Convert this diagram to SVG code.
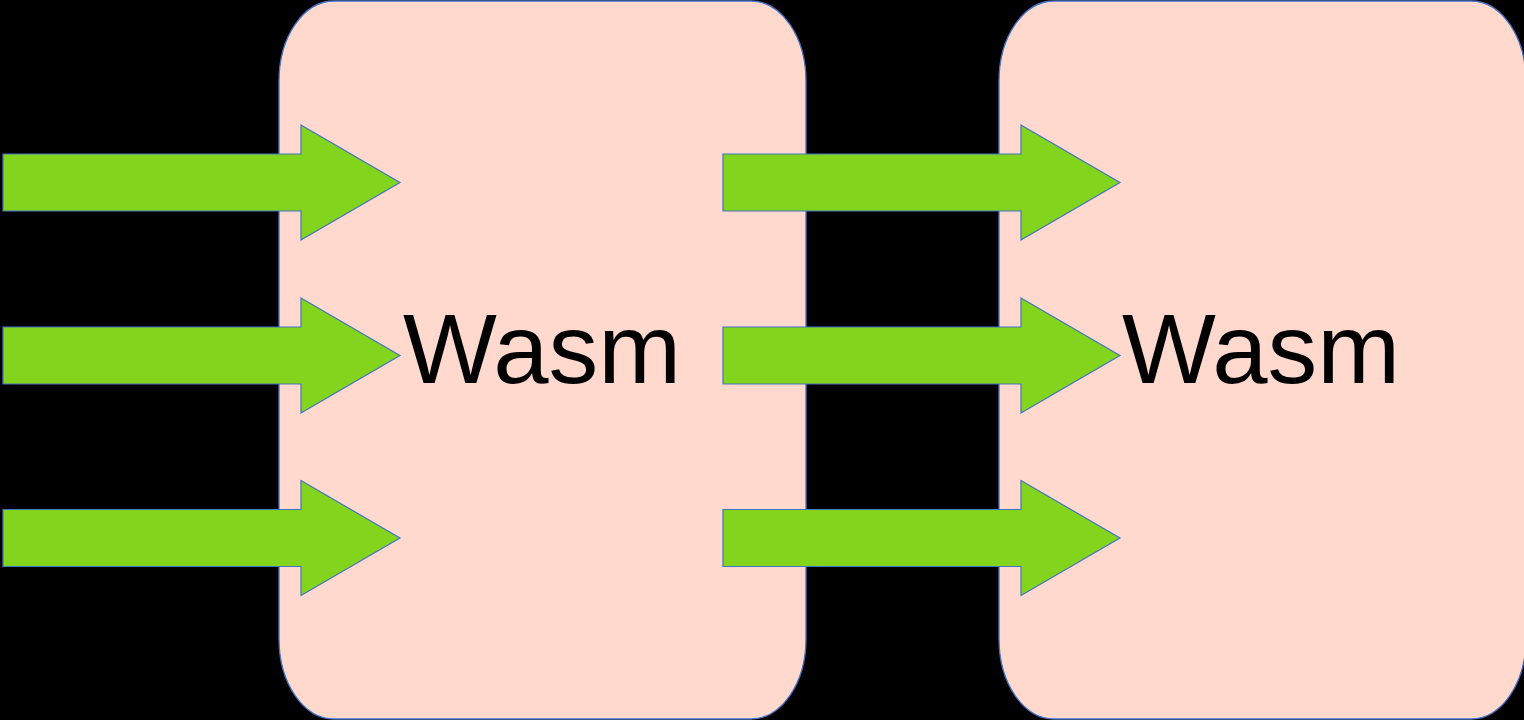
<svg xmlns="http://www.w3.org/2000/svg" width="1524" height="720" viewBox="0 0 1524 720">
<style>
.box{fill:#FFD9CE;stroke:#4472C4;stroke-width:1.3}
.arr{fill:#83D41C;stroke:#4472C4;stroke-width:1.2;stroke-linejoin:miter}
.lbl{font-family:"Liberation Sans",Arial,sans-serif;font-size:98px;fill:#000}
</style>
<defs>
<polygon id="arrow" points="0,-28.5 298,-28.5 298,-57.5 397,0 298,57.5 298,28.5 0,28.5"/>
</defs>
<rect width="1524" height="720" fill="#000"/>
<g id="wasm1">
<rect class="box" x="279" y="1" width="527" height="718" rx="55" ry="80"/>
<text class="lbl" x="403" y="383" textLength="278" lengthAdjust="spacingAndGlyphs">Wasm</text>
</g>
<g id="wasm2">
<rect class="box" x="999" y="1" width="527" height="718" rx="55" ry="80"/>
<text class="lbl" x="1122" y="383" textLength="278" lengthAdjust="spacingAndGlyphs">Wasm</text>
</g>
<g id="connectors">
<use href="#arrow" class="arr" transform="translate(3,182.5)"/>
<use href="#arrow" class="arr" transform="translate(3,355.5)"/>
<use href="#arrow" class="arr" transform="translate(3,538)"/>
<use href="#arrow" class="arr" transform="translate(723,182.5)"/>
<use href="#arrow" class="arr" transform="translate(723,355.5)"/>
<use href="#arrow" class="arr" transform="translate(723,538)"/>
</g>
</svg>
